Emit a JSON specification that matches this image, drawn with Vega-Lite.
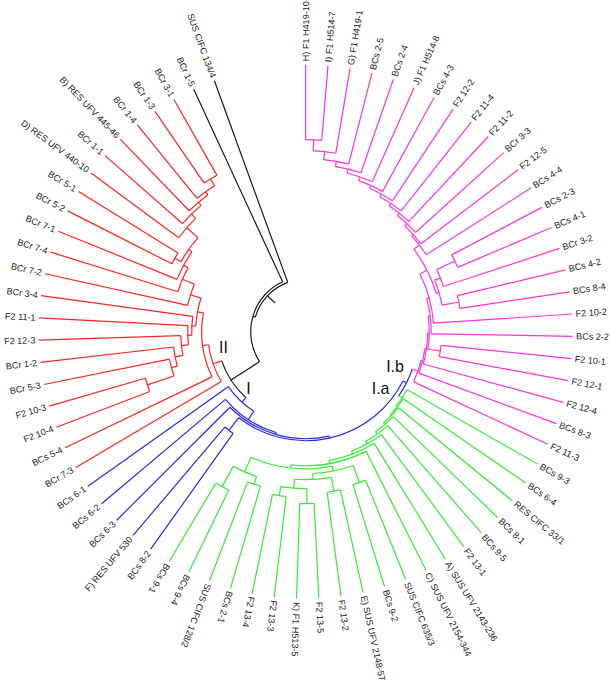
{
"$schema": "https://vega.github.io/schema/vega-lite/v6.json",
"width": 611.4, "height": 663.4, "padding": {"left": 0, "top": 0, "right": 0, "bottom": 18}, "autosize": "none",
"background": "white",
"config": {"view": {"stroke": null}},
"datasets": {
"seg": [
{"p":0,"p2":1,"r":192,"r2":192,"c":"m"},{"p":0,"p2":0,"r":192,"r2":267,"c":"m"},{"p":1,"p2":1,"r":192,"r2":267,"c":"m"},
{"p":0.5,"p2":2,"r":181,"r2":181,"c":"m"},{"p":0.5,"p2":0.5,"r":181,"r2":192,"c":"m"},{"p":2,"p2":2,"r":181,"r2":267,"c":"m"},
{"p":1.25,"p2":3,"r":173,"r2":173,"c":"m"},{"p":1.25,"p2":1.25,"r":173,"r2":181,"c":"m"},{"p":3,"p2":3,"r":173,"r2":267,"c":"m"},
{"p":2.13,"p2":4,"r":168,"r2":168,"c":"m"},{"p":2.13,"p2":2.13,"r":168,"r2":173,"c":"m"},{"p":4,"p2":4,"r":168,"r2":267,"c":"m"},
{"p":3.06,"p2":5,"r":164,"r2":164,"c":"m"},{"p":3.06,"p2":3.06,"r":164,"r2":168,"c":"m"},{"p":5,"p2":5,"r":164,"r2":267,"c":"m"},
{"p":4.03,"p2":6,"r":160,"r2":160,"c":"m"},{"p":4.03,"p2":4.03,"r":160,"r2":164,"c":"m"},{"p":6,"p2":6,"r":160,"r2":267,"c":"m"},
{"p":5.02,"p2":7,"r":157,"r2":157,"c":"m"},{"p":5.02,"p2":5.02,"r":157,"r2":160,"c":"m"},{"p":7,"p2":7,"r":157,"r2":267,"c":"m"},
{"p":6.01,"p2":8,"r":154,"r2":154,"c":"m"},{"p":6.01,"p2":6.01,"r":154,"r2":157,"c":"m"},{"p":8,"p2":8,"r":154,"r2":267,"c":"m"},
{"p":7,"p2":9,"r":151,"r2":151,"c":"m"},{"p":7,"p2":7,"r":151,"r2":154,"c":"m"},{"p":9,"p2":9,"r":151,"r2":267,"c":"m"},
{"p":8,"p2":10,"r":148,"r2":148,"c":"m"},{"p":8,"p2":8,"r":148,"r2":151,"c":"m"},{"p":10,"p2":10,"r":148,"r2":267,"c":"m"},
{"p":9,"p2":11,"r":145,"r2":145,"c":"m"},{"p":9,"p2":9,"r":145,"r2":148,"c":"m"},{"p":11,"p2":11,"r":145,"r2":267,"c":"m"},
{"p":10,"p2":12,"r":143,"r2":143,"c":"m"},{"p":10,"p2":10,"r":143,"r2":145,"c":"m"},{"p":12,"p2":12,"r":143,"r2":267,"c":"m"},
{"p":13,"p2":14,"r":165,"r2":165,"c":"m"},{"p":13,"p2":13,"r":165,"r2":267,"c":"m"},{"p":14,"p2":14,"r":165,"r2":267,"c":"m"},
{"p":13.5,"p2":15,"r":145,"r2":145,"c":"m"},{"p":13.5,"p2":13.5,"r":145,"r2":165,"c":"m"},{"p":15,"p2":15,"r":145,"r2":267,"c":"m"},
{"p":16,"p2":17,"r":156,"r2":156,"c":"m"},{"p":16,"p2":16,"r":156,"r2":267,"c":"m"},{"p":17,"p2":17,"r":156,"r2":267,"c":"m"},
{"p":14.25,"p2":16.5,"r":139,"r2":139,"c":"m"},{"p":14.25,"p2":14.25,"r":139,"r2":145,"c":"m"},{"p":16.5,"p2":16.5,"r":139,"r2":156,"c":"m"},
{"p":11,"p2":15.38,"r":136,"r2":136,"c":"m"},{"p":11,"p2":11,"r":136,"r2":143,"c":"m"},{"p":15.38,"p2":15.38,"r":136,"r2":139,"c":"m"},
{"p":13.19,"p2":18,"r":128,"r2":128,"c":"m"},{"p":13.19,"p2":13.19,"r":128,"r2":136,"c":"m"},{"p":18,"p2":18,"r":128,"r2":267,"c":"m"},
{"p":15.6,"p2":19,"r":125.5,"r2":125.5,"c":"m"},{"p":15.6,"p2":15.6,"r":125.5,"r2":128,"c":"m"},{"p":19,"p2":19,"r":125.5,"r2":267,"c":"m"},
{"p":20,"p2":21,"r":136,"r2":136,"c":"m"},{"p":20,"p2":20,"r":136,"r2":267,"c":"m"},{"p":21,"p2":21,"r":136,"r2":267,"c":"m"},
{"p":17.3,"p2":20.5,"r":123.5,"r2":123.5,"c":"m"},{"p":17.3,"p2":17.3,"r":123.5,"r2":125.5,"c":"m"},{"p":20.5,"p2":20.5,"r":123.5,"r2":136,"c":"m"},
{"p":18.9,"p2":22,"r":122,"r2":122,"c":"m"},{"p":18.9,"p2":18.9,"r":122,"r2":123.5,"c":"m"},{"p":22,"p2":22,"r":122,"r2":267,"c":"m"},
{"p":20.45,"p2":23,"r":120.5,"r2":120.5,"c":"m"},{"p":20.45,"p2":20.45,"r":120.5,"r2":122,"c":"m"},{"p":23,"p2":23,"r":120.5,"r2":267,"c":"m"},
{"p":21.7,"p2":24,"r":119,"r2":119,"c":"m"},{"p":21.7,"p2":21.7,"r":119,"r2":120.5,"c":"m"},{"p":24,"p2":24,"r":119,"r2":267,"c":"m"},
{"p":22.85,"p2":22.85,"r":113,"r2":119,"c":"m"},
{"p":43,"p2":44,"r":176,"r2":176,"c":"g"},{"p":43,"p2":43,"r":176,"r2":267,"c":"g"},{"p":44,"p2":44,"r":176,"r2":267,"c":"g"},
{"p":41,"p2":42,"r":161,"r2":161,"c":"g"},{"p":41,"p2":41,"r":161,"r2":267,"c":"g"},{"p":42,"p2":42,"r":161,"r2":267,"c":"g"},
{"p":41.5,"p2":43.5,"r":153,"r2":153,"c":"g"},{"p":41.5,"p2":41.5,"r":153,"r2":161,"c":"g"},{"p":43.5,"p2":43.5,"r":153,"r2":176,"c":"g"},
{"p":39,"p2":40,"r":166,"r2":166,"c":"g"},{"p":39,"p2":39,"r":166,"r2":267,"c":"g"},{"p":40,"p2":40,"r":166,"r2":267,"c":"g"},
{"p":37,"p2":38,"r":172,"r2":172,"c":"g"},{"p":37,"p2":37,"r":172,"r2":267,"c":"g"},{"p":38,"p2":38,"r":172,"r2":267,"c":"g"},
{"p":37.5,"p2":39.5,"r":157,"r2":157,"c":"g"},{"p":37.5,"p2":37.5,"r":157,"r2":172,"c":"g"},{"p":39.5,"p2":39.5,"r":157,"r2":166,"c":"g"},
{"p":35,"p2":36,"r":162,"r2":162,"c":"g"},{"p":35,"p2":35,"r":162,"r2":267,"c":"g"},{"p":36,"p2":36,"r":162,"r2":267,"c":"g"},
{"p":35.5,"p2":38.5,"r":148,"r2":148,"c":"g"},{"p":35.5,"p2":35.5,"r":148,"r2":162,"c":"g"},{"p":38.5,"p2":38.5,"r":148,"r2":157,"c":"g"},
{"p":33,"p2":34,"r":160,"r2":160,"c":"g"},{"p":33,"p2":33,"r":160,"r2":267,"c":"g"},{"p":34,"p2":34,"r":160,"r2":267,"c":"g"},
{"p":33.5,"p2":37,"r":142,"r2":142,"c":"g"},{"p":33.5,"p2":33.5,"r":142,"r2":160,"c":"g"},{"p":37,"p2":37,"r":142,"r2":148,"c":"g"},
{"p":35.25,"p2":42.5,"r":137,"r2":137,"c":"g"},{"p":35.25,"p2":35.25,"r":137,"r2":142,"c":"g"},{"p":42.5,"p2":42.5,"r":137,"r2":153,"c":"g"},
{"p":32,"p2":38.9,"r":134,"r2":134,"c":"g"},{"p":32,"p2":32,"r":134,"r2":267,"c":"g"},{"p":38.9,"p2":38.9,"r":134,"r2":137,"c":"g"},
{"p":31,"p2":35.45,"r":131,"r2":131,"c":"g"},{"p":31,"p2":31,"r":131,"r2":267,"c":"g"},{"p":35.45,"p2":35.45,"r":131,"r2":134,"c":"g"},
{"p":30,"p2":33.2,"r":128,"r2":128,"c":"g"},{"p":30,"p2":30,"r":128,"r2":267,"c":"g"},{"p":33.2,"p2":33.2,"r":128,"r2":131,"c":"g"},
{"p":29,"p2":31.6,"r":125,"r2":125,"c":"g"},{"p":29,"p2":29,"r":125,"r2":267,"c":"g"},{"p":31.6,"p2":31.6,"r":125,"r2":128,"c":"g"},
{"p":28,"p2":30.3,"r":122,"r2":122,"c":"g"},{"p":28,"p2":28,"r":122,"r2":267,"c":"g"},{"p":30.3,"p2":30.3,"r":122,"r2":125,"c":"g"},
{"p":27,"p2":29.15,"r":120,"r2":120,"c":"g"},{"p":27,"p2":27,"r":120,"r2":267,"c":"g"},{"p":29.15,"p2":29.15,"r":120,"r2":122,"c":"g"},
{"p":26,"p2":28.1,"r":118.5,"r2":118.5,"c":"g"},{"p":26,"p2":26,"r":118.5,"r2":267,"c":"g"},{"p":28.1,"p2":28.1,"r":118.5,"r2":120,"c":"g"},
{"p":25,"p2":27.05,"r":117,"r2":117,"c":"g"},{"p":25,"p2":25,"r":117,"r2":267,"c":"g"},{"p":27.05,"p2":27.05,"r":117,"r2":118.5,"c":"g"},
{"p":26,"p2":26,"r":113,"r2":117,"c":"g"},
{"p":22.85,"p2":26,"r":113,"r2":113,"c":"b"},{"p":24.4,"p2":24.4,"r":109,"r2":113,"c":"b"},
{"p":45,"p2":46,"r":125,"r2":125,"c":"b"},{"p":45,"p2":45,"r":125,"r2":267,"c":"b"},{"p":46,"p2":46,"r":125,"r2":267,"c":"b"},
{"p":24.4,"p2":45.5,"r":109,"r2":109,"c":"b"},{"p":45.5,"p2":45.5,"r":109,"r2":125,"c":"b"},
{"p":34.95,"p2":47,"r":107,"r2":107,"c":"b"},{"p":34.95,"p2":34.95,"r":107,"r2":109,"c":"b"},{"p":47,"p2":47,"r":107,"r2":267,"c":"b"},
{"p":41,"p2":48,"r":105,"r2":105,"c":"b"},{"p":41,"p2":41,"r":105,"r2":107,"c":"b"},{"p":48,"p2":48,"r":105,"r2":267,"c":"b"},
{"p":44.5,"p2":49,"r":95,"r2":95,"c":"b"},{"p":44.5,"p2":44.5,"r":95,"r2":105,"c":"b"},{"p":49,"p2":49,"r":95,"r2":267,"c":"b"},
{"p":46.4,"p2":46.4,"r":89,"r2":95,"c":"b"},
{"p":46.4,"p2":52.39,"r":89,"r2":89,"c":"k"},{"p":49.5,"p2":49.5,"r":55,"r2":89,"c":"k"},
{"p":49.5,"p2":70,"r":55,"r2":55,"c":"k"},{"p":70,"p2":70,"r":55,"r2":267,"c":"k"},
{"p":59.75,"p2":71,"r":52.5,"r2":52.5,"c":"k"},{"p":71,"p2":71,"r":52.5,"r2":267,"c":"k"},{"p":59.75,"p2":59.75,"r":52.5,"r2":55,"c":"k"},
{"p":65.4,"p2":65.4,"r":42,"r2":52.5,"c":"k"},
{"p":52,"p2":53,"r":167,"r2":167,"c":"r"},{"p":52,"p2":52,"r":167,"r2":267,"c":"r"},{"p":53,"p2":53,"r":167,"r2":267,"c":"r"},
{"p":52.5,"p2":54,"r":139,"r2":139,"c":"r"},{"p":52.5,"p2":52.5,"r":139,"r2":167,"c":"r"},{"p":54,"p2":54,"r":139,"r2":267,"c":"r"},
{"p":53.25,"p2":55,"r":133,"r2":133,"c":"r"},{"p":53.25,"p2":53.25,"r":133,"r2":139,"c":"r"},{"p":55,"p2":55,"r":133,"r2":267,"c":"r"},
{"p":54.1,"p2":56,"r":125,"r2":125,"c":"r"},{"p":54.1,"p2":54.1,"r":125,"r2":133,"c":"r"},{"p":56,"p2":56,"r":125,"r2":267,"c":"r"},
{"p":55.05,"p2":57,"r":118,"r2":118,"c":"r"},{"p":55.05,"p2":55.05,"r":118,"r2":125,"c":"r"},{"p":57,"p2":57,"r":118,"r2":267,"c":"r"},
{"p":56,"p2":58,"r":114,"r2":114,"c":"r"},{"p":56,"p2":56,"r":114,"r2":118,"c":"r"},{"p":58,"p2":58,"r":114,"r2":267,"c":"r"},
{"p":68,"p2":69,"r":180,"r2":180,"c":"r"},{"p":68,"p2":68,"r":180,"r2":267,"c":"r"},{"p":69,"p2":69,"r":180,"r2":267,"c":"r"},
{"p":67,"p2":68.5,"r":172,"r2":172,"c":"r"},{"p":67,"p2":67,"r":172,"r2":267,"c":"r"},{"p":68.5,"p2":68.5,"r":172,"r2":180,"c":"r"},
{"p":66,"p2":67.75,"r":168,"r2":168,"c":"r"},{"p":66,"p2":66,"r":168,"r2":267,"c":"r"},{"p":67.75,"p2":67.75,"r":168,"r2":172,"c":"r"},
{"p":65,"p2":66.9,"r":164,"r2":164,"c":"r"},{"p":65,"p2":65,"r":164,"r2":267,"c":"r"},{"p":66.9,"p2":66.9,"r":164,"r2":168,"c":"r"},
{"p":64,"p2":65.95,"r":158,"r2":158,"c":"r"},{"p":64,"p2":64,"r":158,"r2":267,"c":"r"},{"p":65.95,"p2":65.95,"r":158,"r2":164,"c":"r"},
{"p":62,"p2":63,"r":150,"r2":150,"c":"r"},{"p":62,"p2":62,"r":150,"r2":267,"c":"r"},{"p":63,"p2":63,"r":150,"r2":267,"c":"r"},
{"p":62.5,"p2":64.97,"r":143,"r2":143,"c":"r"},{"p":62.5,"p2":62.5,"r":143,"r2":150,"c":"r"},{"p":64.97,"p2":64.97,"r":143,"r2":158,"c":"r"},
{"p":61,"p2":63.7,"r":139,"r2":139,"c":"r"},{"p":61,"p2":61,"r":139,"r2":267,"c":"r"},{"p":63.7,"p2":63.7,"r":139,"r2":143,"c":"r"},
{"p":60,"p2":62.35,"r":134,"r2":134,"c":"r"},{"p":60,"p2":60,"r":134,"r2":267,"c":"r"},{"p":62.35,"p2":62.35,"r":134,"r2":139,"c":"r"},
{"p":59,"p2":61.2,"r":121,"r2":121,"c":"r"},{"p":59,"p2":59,"r":121,"r2":267,"c":"r"},{"p":61.2,"p2":61.2,"r":121,"r2":134,"c":"r"},
{"p":57,"p2":60.1,"r":110,"r2":110,"c":"r"},{"p":57,"p2":57,"r":110,"r2":114,"c":"r"},{"p":60.1,"p2":60.1,"r":110,"r2":121,"c":"r"},
{"p":51,"p2":58.55,"r":104,"r2":104,"c":"r"},{"p":51,"p2":51,"r":104,"r2":267,"c":"r"},{"p":58.55,"p2":58.55,"r":104,"r2":110,"c":"r"},
{"p":50,"p2":54.78,"r":98,"r2":98,"c":"r"},{"p":50,"p2":50,"r":98,"r2":267,"c":"r"},{"p":54.78,"p2":54.78,"r":98,"r2":104,"c":"r"},
{"p":52.39,"p2":52.39,"r":89,"r2":98,"c":"r"}
],
"leaf": [
{"p":0,"r":267,"name":"H) F1 H419-10"},{"p":1,"r":267,"name":"I) F1 H514-7"},{"p":2,"r":267,"name":"G) F1 H419-1"},{"p":3,"r":267,"name":"BCs 2-5"},
{"p":4,"r":267,"name":"BCs 2-4"},{"p":5,"r":267,"name":"J) F1 H514-8"},{"p":6,"r":267,"name":"BCs 4-3"},{"p":7,"r":267,"name":"F2 12-2"},
{"p":8,"r":267,"name":"F2 11-4"},{"p":9,"r":267,"name":"F2 11-2"},{"p":10,"r":267,"name":"BCr 3-3"},{"p":11,"r":267,"name":"F2 12-5"},
{"p":12,"r":267,"name":"BCs 4-4"},{"p":13,"r":267,"name":"BCs 2-3"},{"p":14,"r":267,"name":"BCs 4-1"},{"p":15,"r":267,"name":"BCr 3-2"},
{"p":16,"r":267,"name":"BCs 4-2"},{"p":17,"r":267,"name":"BCs 8-4"},{"p":18,"r":267,"name":"F2 10-2"},{"p":19,"r":267,"name":"BCs 2-2"},
{"p":20,"r":267,"name":"F2 10-1"},{"p":21,"r":267,"name":"F2 12-1"},{"p":22,"r":267,"name":"F2 12-4"},{"p":23,"r":267,"name":"BCs 8-3"},
{"p":24,"r":267,"name":"F2 11-3"},{"p":25,"r":267,"name":"BCs 9-3"},{"p":26,"r":267,"name":"BCs 6-4"},{"p":27,"r":267,"name":"RES CIFC 33/1"},
{"p":28,"r":267,"name":"BCs 8-1"},{"p":29,"r":267,"name":"BCs 9-5"},{"p":30,"r":267,"name":"F2 13-1"},{"p":31,"r":267,"name":"A) SUS UFV 2143-236"},
{"p":32,"r":267,"name":"C) SUS UFV 2154-344"},{"p":33,"r":267,"name":"SUS CIFC 635/3"},{"p":34,"r":267,"name":"BCs 9-2"},{"p":35,"r":267,"name":"E) SUS UFV 2148-57"},
{"p":36,"r":267,"name":"F2 13-2"},{"p":37,"r":267,"name":"F2 13-5"},{"p":38,"r":267,"name":"K) F1 H513-5"},{"p":39,"r":267,"name":"F2 13-3"},
{"p":40,"r":267,"name":"F2 13-4"},{"p":41,"r":267,"name":"BCs 2-1"},{"p":42,"r":267,"name":"SUS CIFC 128/2"},{"p":43,"r":267,"name":"BCs 9-4"},
{"p":44,"r":267,"name":"BCs 9-1"},{"p":45,"r":267,"name":"BCs 8-2"},{"p":46,"r":267,"name":"F) RES UFV 530"},{"p":47,"r":267,"name":"BCs 6-3"},
{"p":48,"r":267,"name":"BCs 6-2"},{"p":49,"r":267,"name":"BCs 6-1"},{"p":50,"r":267,"name":"BCr 7-3"},{"p":51,"r":267,"name":"BCs 5-4"},
{"p":52,"r":267,"name":"F2 10-4"},{"p":53,"r":267,"name":"F2 10-3"},{"p":54,"r":267,"name":"BCr 5-3"},{"p":55,"r":267,"name":"BCr 1-2"},
{"p":56,"r":267,"name":"F2 12-3"},{"p":57,"r":267,"name":"F2 11-1"},{"p":58,"r":267,"name":"BCr 3-4"},{"p":59,"r":267,"name":"BCr 7-2"},
{"p":60,"r":267,"name":"BCr 7-4"},{"p":61,"r":267,"name":"BCr 7-1"},{"p":62,"r":267,"name":"BCr 5-2"},{"p":63,"r":267,"name":"BCr 5-1"},
{"p":64,"r":267,"name":"D) RES UFV 440-10"},{"p":65,"r":267,"name":"BCr 1-1"},{"p":66,"r":267,"name":"B) RES UFV 445-46"},{"p":67,"r":267,"name":"BCr 1-4"},
{"p":68,"r":267,"name":"BCr 1-3"},{"p":69,"r":267,"name":"BCr 3-1"},{"p":70,"r":267,"name":"BCr 1-5"},{"p":71,"r":267,"name":"SUS CIFC 134/4"}
],
"clade": [
{"t":"II","p":53.98,"r":84},{"t":"I","p":46.96,"r":81},{"t":"I.b","p":23.28,"r":96},{"t":"I.a","p":26.56,"r":94}
]
},
"layer": [
{
"data": {"name": "seg"},
"mark": {"type": "arc", "filled": false, "strokeWidth": 1.2},
"encoding": {
"theta": {"field": "p", "type": "quantitative", "stack": null, "scale": {"domain": [0, 75.176], "range": [0, 6.283185], "nice": false}},
"theta2": {"field": "p2"},
"radius": {"field": "r", "type": "quantitative", "scale": {"type": "linear", "domain": [0, 267], "range": [0, 267], "nice": false, "zero": true}},
"radius2": {"field": "r2"},
"stroke": {"field": "c", "type": "nominal", "legend": null, "scale": {"domain": ["m","g","b","k","r"], "range": ["#FF33DD","#33EE33","#2A2AE6","#1A1A1A","#FF2222"]}}
}
},
{
"data": {"name": "leaf"},
"transform": [{"filter": "datum.p <= 44"}],
"mark": {"type": "text", "align": "left", "baseline": "middle", "radiusOffset": 3.5, "font": "Liberation Sans", "fontSize": 9.1, "color": "#222222"},
"encoding": {
"theta": {"field": "p", "type": "quantitative", "scale": {"domain": [0, 75.176], "range": [0, 6.283185], "nice": false}},
"radius": {"field": "r", "type": "quantitative", "scale": {"type": "linear", "domain": [0, 267], "range": [0, 267], "nice": false, "zero": true}},
"angle": {"field": "p", "type": "quantitative", "legend": null, "scale": {"domain": [0, 75.176], "range": [-90, 270], "nice": false, "zero": false}},
"text": {"field": "name"}
}
},
{
"data": {"name": "leaf"},
"transform": [{"filter": "datum.p > 44"}],
"mark": {"type": "text", "align": "right", "baseline": "middle", "radiusOffset": 3.5, "font": "Liberation Sans", "fontSize": 9.1, "color": "#222222"},
"encoding": {
"theta": {"field": "p", "type": "quantitative", "scale": {"domain": [0, 75.176], "range": [0, 6.283185], "nice": false}},
"radius": {"field": "r", "type": "quantitative", "scale": {"type": "linear", "domain": [0, 267], "range": [0, 267], "nice": false, "zero": true}},
"angle": {"field": "p", "type": "quantitative", "legend": null, "scale": {"domain": [0, 75.176], "range": [-270, 90], "nice": false, "zero": false}},
"text": {"field": "name"}
}
},
{
"data": {"name": "clade"},
"mark": {"type": "text", "align": "center", "baseline": "middle", "font": "Liberation Sans", "fontSize": 16, "color": "#111111"},
"encoding": {
"theta": {"field": "p", "type": "quantitative", "scale": {"domain": [0, 75.176], "range": [0, 6.283185], "nice": false}},
"radius": {"field": "r", "type": "quantitative", "scale": {"type": "linear", "domain": [0, 267], "range": [0, 267], "nice": false, "zero": true}},
"text": {"field": "t"}
}
}
],
"resolve": {"scale": {"angle": "independent"}}
}
